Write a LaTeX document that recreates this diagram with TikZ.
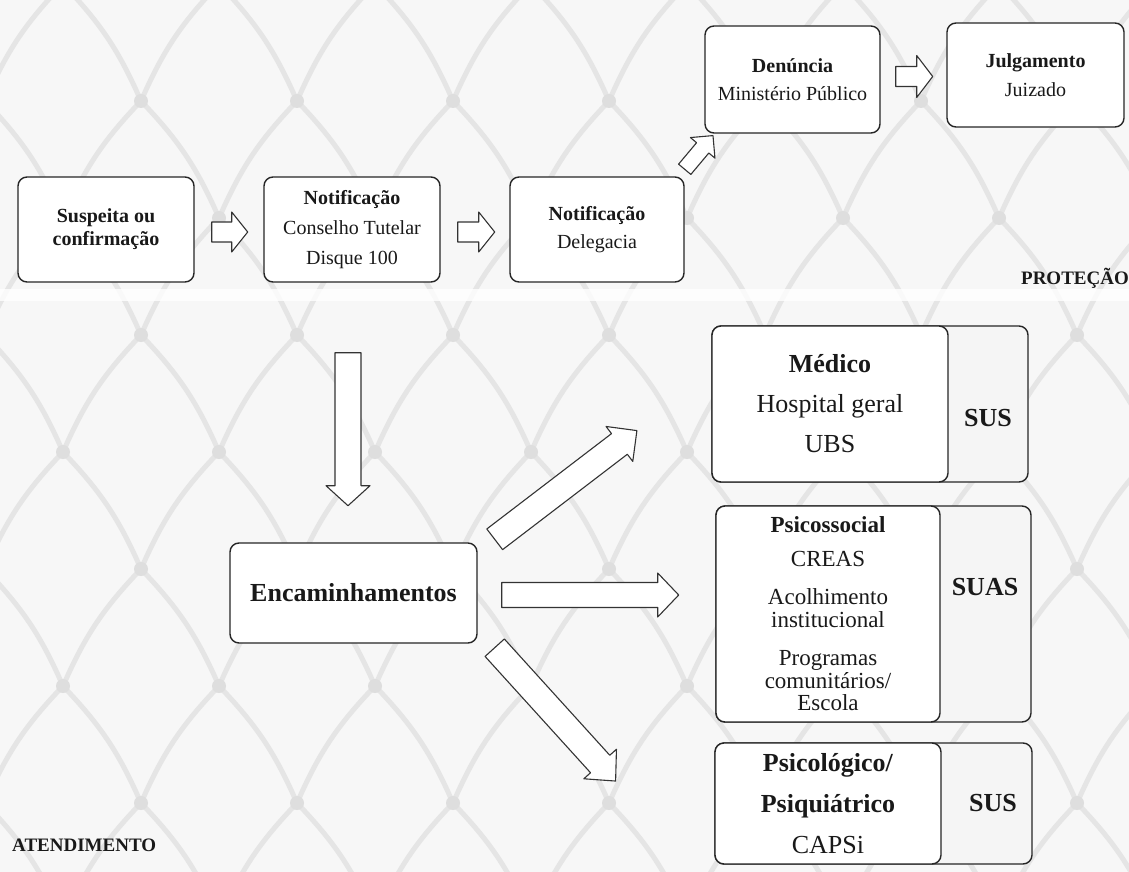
\documentclass[tikz,border=0pt]{standalone}
\usepackage{fontspec}
\setmainfont{Liberation Serif}
\usetikzlibrary{positioning,calc}

\begin{document}
\begin{tikzpicture}[x=1pt,y=-1pt,line join=round,
  box/.style={draw=black!85,line width=1.4pt,rounded corners=9pt,fill=white,align=center,inner sep=0pt,text=black!90},
  fat/.style={draw=black!80,line width=1.1pt,fill=white},
  netline/.style={draw=black!10,line width=5pt},
  netknot/.style={fill=black!13},
  tag/.style={font=\fontsize{19}{22}\selectfont\bfseries,text=black!90,inner sep=0pt}]

  \useasboundingbox (0,0) rectangle (1129,872);
  \fill[black!3] (0,0) rectangle (1129,872);

  % #1 start, #2 angle, #3 length
  % #4 half shaft, #5 half head, #6 head length
  \newcommand{\fatarrow}[6]{
    \begin{scope}[shift={(#1)},rotate=#2]
      \draw[fat] (0,-#4) -- ({#3-#6},-#4) -- ({#3-#6},-#5) -- (#3,0)
        -- ({#3-#6},#5) -- ({#3-#6},#4) -- (0,#4) -- cycle;
    \end{scope}
  }

  % net in the background
  \begin{scope}
    \clip (0,0) rectangle (1129,872);
    \foreach \j in {0,...,8} {
      \pgfmathsetmacro{\yy}{-16+117*\j}
      \pgfmathsetmacro{\xo}{-15+78*mod(\j+1,2)}
      \foreach \i in {-1,...,8} {
        \pgfmathsetmacro{\xx}{\xo+156*\i}
        \draw[netline] (\xx,\yy) to[bend left=10] (\xx+78,\yy+117);
        \draw[netline] (\xx,\yy) to[bend right=10] (\xx-78,\yy+117);
        \fill[netknot] (\xx,\yy) circle[radius=7pt];
      }
    }
  \end{scope}
  \fill[white,opacity=.8] (0,289) rectangle (1129,301);

  % protection line
  \node[box,minimum width=176pt,minimum height=105pt,font=\fontsize{20}{23}\selectfont\bfseries] (susp) at (106,229.5) {Suspeita ou\\confirmação};
  \node[box,minimum width=176pt,minimum height=105pt,font=\fontsize{20}{30}\selectfont] (ctut) at (352,229.5) {\textbf{Notificação}\\Conselho Tutelar\\Disque 100};
  \node[box,minimum width=174pt,minimum height=105pt,font=\fontsize{20}{28}\selectfont] (deleg) at (597,229.5) {\textbf{Notificação}\\Delegacia};
  \node[box,minimum width=175pt,minimum height=107pt,font=\fontsize{20}{28}\selectfont] (denun) at (792.5,79.5) {\textbf{Denúncia}\\Ministério Público};
  \node[box,minimum width=177pt,minimum height=104pt,font=\fontsize{20}{29}\selectfont] (julg) at (1035.5,75) {\textbf{Julgamento}\\Juizado};

  \fatarrow{$(susp.east)+(17,2.5)$}{0}{36}{10}{20}{16}
  \fatarrow{$(ctut.east)+(17,2.5)$}{0}{37}{10}{20}{16}
  \fatarrow{$(deleg.north east)+(0,-7)$}{50}{44}{8}{16}{16}
  \fatarrow{$(denun.east)+(15,-3)$}{0}{37}{10}{21}{16}

  \node[tag,anchor=east] (prot) at (1129,278) {PROTEÇÃO};

  % care line
  \fatarrow{$(ctut.south)+(-4,70)$}{-90}{153}{13}{22}{20}

  \node[box,minimum width=247pt,minimum height=100pt,font=\fontsize{26}{30}\selectfont\bfseries] (enc) at (353.5,593) {Encaminhamentos};

  \node[box,minimum width=316pt,minimum height=156pt,fill=black!4] (medo) at (870,404) {};
  \node[box,minimum width=236pt,minimum height=156pt,anchor=west,font=\fontsize{26}{40}\selectfont] (med) at (medo.west) {\textbf{Médico}\\Hospital geral\\UBS};
  \node[tag,font=\fontsize{26}{30}\selectfont\bfseries] (sus1) at (988,418) {SUS};

  \node[box,minimum width=315pt,minimum height=216pt,fill=black!4] (psso) at (873.5,614) {};
  \node[box,minimum width=224pt,minimum height=216pt,anchor=west,font=\fontsize{23}{22.5}\selectfont] (psis) at (psso.west) {\textbf{Psicossocial}\\[11pt]CREAS\\[16pt]Acolhimento\\institucional\\[16pt]Programas\\comunitários/\\Escola};
  \node[tag,font=\fontsize{26}{30}\selectfont\bfseries] (suas) at (985,587) {SUAS};

  \node[box,minimum width=317pt,minimum height=121pt,fill=black!4] (pcso) at (873.5,803.5) {};
  \node[box,minimum width=226pt,minimum height=121pt,anchor=west,font=\fontsize{26}{41}\selectfont] (psic) at (pcso.west) {\textbf{Psicológico/}\\\textbf{Psiquiátrico}\\CAPSi};
  \node[tag,font=\fontsize{26}{30}\selectfont\bfseries] (sus2) at (993,803) {SUS};

  \fatarrow{$(enc.north east)+(17,-3)$}{37.4}{179}{13}{22}{22}
  \fatarrow{$(enc.east)+(24,2)$}{0}{177}{12.5}{22}{21}
  \fatarrow{$(enc.south east)+(17,4)$}{-47.8}{180}{13}{22}{23}

  \node[tag,anchor=west] (aten) at (12,845) {ATENDIMENTO};

\end{tikzpicture}
\end{document}
